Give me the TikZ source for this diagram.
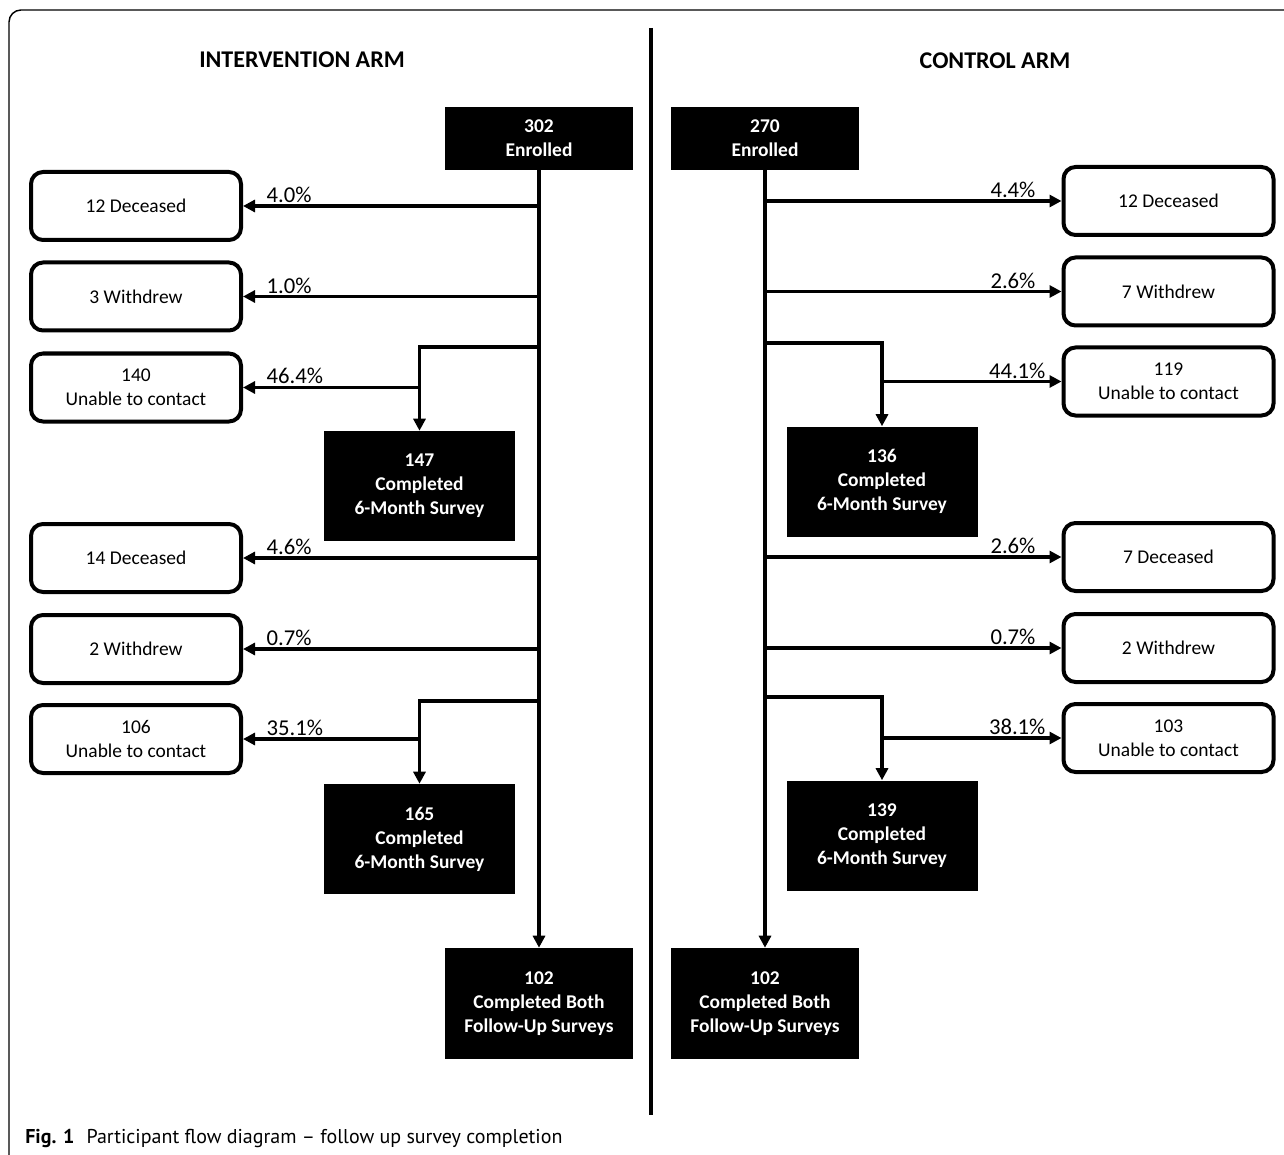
\documentclass[tikz,border=0pt]{standalone}
\usepackage{fontspec}
\setmainfont{Carlito}
\newfontfamily\capfont{PT Sans}
\usetikzlibrary{arrows.meta}
\begin{document}
\begin{tikzpicture}[x=0.75pt,y=-0.75pt,
  blk/.style={fill=black,text=white,font=\fontsize{14.6}{18}\selectfont\bfseries,align=center,inner sep=0pt},
  enr/.style={blk,minimum width=141pt,minimum height=47.25pt},
  six/.style={blk,minimum width=143.25pt,minimum height=82.5pt},
  fin/.style={blk,minimum width=141pt,minimum height=83.25pt},
  rbox/.style={draw,line width=3pt,rounded corners=9pt,align=center,inner sep=0pt,
    minimum width=157.5pt,minimum height=51pt,font=\fontsize{14.6}{18}\selectfont},
  conn/.style={line width=2.4pt},
  arr/.style={conn,-{Triangle[length=9pt,width=9pt]}},
  pct/.style={font=\fontsize{17}{18}\selectfont,inner sep=1pt},
  ttl/.style={font=\fontsize{18}{20}\selectfont\bfseries}]
\useasboundingbox (0,0) rectangle (1284,1155);
% frame
\draw[line width=1.1pt,rounded corners=9pt] (9,1155) -- (9,10) -- (1284,10);
% divider
\draw[line width=2.4pt] (651,28) -- (651,1115);
% titles
\node[ttl] (tint) at (302,60) {INTERVENTION ARM};
\node[ttl] (tctl) at (995,61) {CONTROL ARM};
% intervention nodes
\node[enr] (ie) at (539,138.5) {302\\Enrolled};
\node[rbox] (id1) at (136,206) {12 Deceased};
\node[rbox] (iw1) at (136,296.5) {3 Withdrew};
\node[rbox] (iu1) at (136,387.5) {140\\Unable to contact};
\node[six] (is1) at (419.5,486) {147\\Completed\\6-Month Survey};
\node[rbox] (id2) at (136,558) {14 Deceased};
\node[rbox] (iw2) at (136,649) {2 Withdrew};
\node[rbox] (iu2) at (136,739) {106\\Unable to contact};
\node[six] (is2) at (419.5,839) {165\\Completed\\6-Month Survey};
\node[fin] (ib) at (539,1003.5) {102\\Completed Both\\Follow-Up Surveys};
% control nodes
\node[enr] (ce) at (765,138.5) {270\\Enrolled};
\node[rbox] (cd1) at (1168.5,201) {12 Deceased};
\node[rbox] (cw1) at (1168.5,291.5) {7 Withdrew};
\node[rbox] (cu1) at (1168.5,381.5) {119\\Unable to contact};
\node[six] (cs1) at (882,481.5) {136\\Completed\\6-Month Survey};
\node[rbox] (cd2) at (1168.5,557) {7 Deceased};
\node[rbox] (cw2) at (1168.5,648) {2 Withdrew};
\node[rbox] (cu2) at (1168.5,738) {103\\Unable to contact};
\node[six] (cs2) at (882,835.5) {139\\Completed\\6-Month Survey};
\node[fin] (cb) at (765,1003.5) {102\\Completed Both\\Follow-Up Surveys};
% branch points
\coordinate (ib1) at (539,347);
\coordinate (ib2) at (539,701);
\coordinate (cb1) at (765,343);
\coordinate (cb2) at (765,697);
% intervention connectors
\draw[arr] (ie.south) -- (ib.north);
\draw[arr] (ie.south |- id1.east) -- (id1.east);
\draw[arr] (ie.south |- iw1.east) -- (iw1.east);
\draw[arr] (ib1) -| (is1.north);
\draw[arr] (is1.north |- iu1.east) -- (iu1.east);
\draw[arr] (ie.south |- id2.east) -- (id2.east);
\draw[arr] (ie.south |- iw2.east) -- (iw2.east);
\draw[arr] (ib2) -| (is2.north);
\draw[arr] (is2.north |- iu2.east) -- (iu2.east);
% control connectors
\draw[arr] (ce.south) -- (cb.north);
\draw[arr] (ce.south |- cd1.west) -- (cd1.west);
\draw[arr] (ce.south |- cw1.west) -- (cw1.west);
\draw[arr] (cb1) -| (cs1.north);
\draw[arr] (cs1.north |- cu1.west) -- (cu1.west);
\draw[arr] (ce.south |- cd2.west) -- (cd2.west);
\draw[arr] (ce.south |- cw2.west) -- (cw2.west);
\draw[arr] (cb2) -| (cs2.north);
\draw[arr] (cs2.north |- cu2.west) -- (cu2.west);
% percentages
\node[pct,anchor=south west] (p1) at (265,204) {4.0\%};
\node[pct,anchor=south west] (p2) at (265,295) {1.0\%};
\node[pct,anchor=south west] (p3) at (265,385) {46.4\%};
\node[pct,anchor=south west] (p4) at (265,556) {4.6\%};
\node[pct,anchor=south west] (p5) at (265,647) {0.7\%};
\node[pct,anchor=south west] (p6) at (265,737) {35.1\%};
\node[pct,anchor=south east] (q1) at (1037,199) {4.4\%};
\node[pct,anchor=south east] (q2) at (1037,290) {2.6\%};
\node[pct,anchor=south east] (q3) at (1047,380) {44.1\%};
\node[pct,anchor=south east] (q4) at (1037,555) {2.6\%};
\node[pct,anchor=south east] (q5) at (1037,646) {0.7\%};
\node[pct,anchor=south east] (q6) at (1047,736) {38.1\%};
% caption
\node[anchor=base west,inner sep=0pt,font=\capfont\fontsize{15}{18}\selectfont] (cap) at (25,1143)
  {\textbf{Fig. 1}\hspace{0.6em}Participant flow diagram – follow up survey completion};
\end{tikzpicture}
\end{document}
